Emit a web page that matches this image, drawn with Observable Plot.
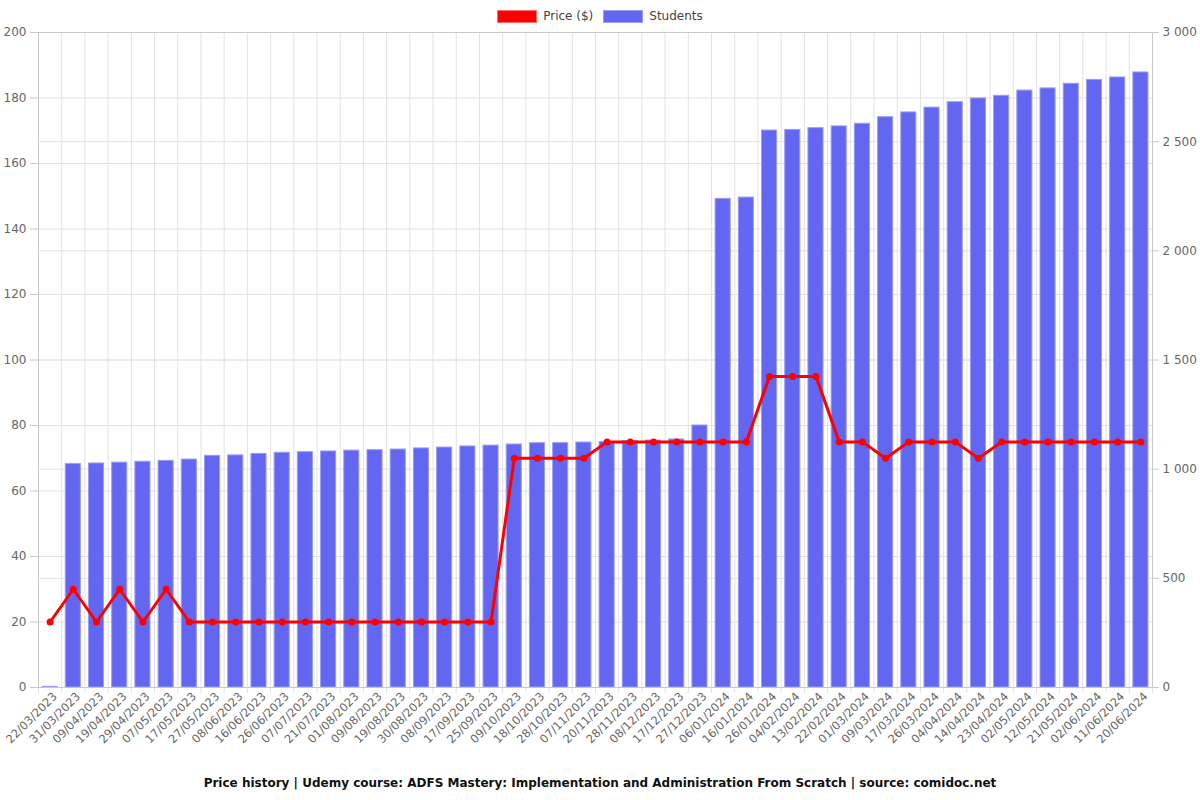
<!DOCTYPE html>
<html>
<head>
<meta charset="utf-8">
<script src="https://cdn.jsdelivr.net/npm/d3@7"></script>
<script src="https://cdn.jsdelivr.net/npm/@observablehq/plot@0.6"></script>
<style>
  body { margin: 0; background: #fff; font-family: "DejaVu Sans", sans-serif; }
  #legend { height: 26px; display: flex; justify-content: center; align-items: center; font-size: 12px; color: #444; padding-top: 6px; box-sizing: border-box; }
  .item { display: flex; align-items: center; margin: 0 5px; }
  .sw { width: 40px; height: 13px; margin-right: 6px; box-sizing: border-box; }
  #caption { text-align: center; font-weight: bold; font-size: 12px; color: #111; height: 30px; line-height: 27px; }
  #chart svg { display: block; }
</style>
</head>
<body>
<div id="legend">
  <div class="item"><div class="sw" style="background:#ff0000;border:1px solid #ff6b6b"></div>Price ($)</div>
  <div class="item"><div class="sw" style="background:#6366f1;border:1px solid #9a9cf5"></div>Students</div>
</div>
<div id="chart"></div>
<div id="caption">Price history | Udemy course: ADFS Mastery: Implementation and Administration From Scratch | source: comidoc.net</div>
<script>
const dates = ["22/03/2023","31/03/2023","09/04/2023","19/04/2023","29/04/2023","07/05/2023","17/05/2023","27/05/2023","08/06/2023","16/06/2023","26/06/2023","07/07/2023","21/07/2023","01/08/2023","09/08/2023","19/08/2023","30/08/2023","08/09/2023","17/09/2023","25/09/2023","09/10/2023","18/10/2023","28/10/2023","07/11/2023","20/11/2023","28/11/2023","08/12/2023","17/12/2023","27/12/2023","06/01/2024","16/01/2024","26/01/2024","04/02/2024","13/02/2024","22/02/2024","01/03/2024","09/03/2024","17/03/2024","26/03/2024","04/04/2024","14/04/2024","23/04/2024","02/05/2024","12/05/2024","21/05/2024","02/06/2024","11/06/2024","20/06/2024"];
const students = [3,1024,1026,1030,1034,1038,1044,1061,1063,1070,1075,1078,1081,1085,1087,1090,1095,1099,1104,1108,1113,1119,1119,1122,1125,1128,1131,1136,1200,2238,2244,2551,2554,2562,2570,2582,2612,2634,2656,2681,2698,2710,2734,2744,2765,2783,2794,2817];
const prices = [20,30,20,30,20,30,20,20,20,20,20,20,20,20,20,20,20,20,20,20,70,70,70,70,75,75,75,75,75,75,75,95,95,95,75,75,70,75,75,75,70,75,75,75,75,75,75,75];
const priceTicks = [0,20,40,60,80,100,120,140,160,180,200];
const studentTicks = [0,500,1000,1500,2000,2500,3000];

const priceMax = priceTicks[priceTicks.length - 1];
const studentMax = studentTicks[studentTicks.length - 1];
const k = studentMax / priceMax;

const data = dates.map((d, i) => ({date: d, price: prices[i], students: students[i]}));

const W = 1200, ML = 38, MR = 48;
const step = (W - ML - MR) / dates.length;
const fmtStudents = v => d3.format(",")(v).replace(/,/g, " ");
const gridColor = "#e2e2e2";

const chart = Plot.plot({
  width: W,
  height: 744,
  marginLeft: ML,
  marginRight: MR,
  marginTop: 6,
  marginBottom: 83,
  style: {fontFamily: "DejaVu Sans, sans-serif", fontSize: "12px", background: "#fff"},
  x: {type: "band", domain: dates, paddingInner: 0.35, paddingOuter: 0.175, round: false},
  y: {domain: [0, priceMax]},
  marks: [
    Plot.ruleY(priceTicks, {stroke: gridColor}),
    Plot.ruleY(studentTicks, {y: d => d / k, stroke: gridColor}),
    Plot.ruleX(dates, {x: d => d, dx: -step / 2, stroke: gridColor, insetBottom: -6}),
    Plot.ruleX([dates[dates.length - 1]], {x: d => d, dx: step / 2, stroke: gridColor, insetBottom: -6}),
    Plot.barY(data, {x: "date", y: d => d.students / k, fill: "#6366f1", stroke: "#9a9cf5", strokeWidth: 1}),
    Plot.line(data, {x: "date", y: "price", stroke: "#ff0000", strokeWidth: 3}),
    Plot.dot(data, {x: "date", y: "price", r: 3.5, fill: "#ff0000"}),
    Plot.frame({stroke: "#c8c8c8"}),
    Plot.axisY({anchor: "left", ticks: priceTicks, tickSize: 8, tickPadding: 4, stroke: "#c8c8c8", fill: "#666", label: null}),
    Plot.axisY({anchor: "right", ticks: studentTicks.map(v => v / k), tickFormat: v => fmtStudents(Math.round(v * k)), tickSize: 6, tickPadding: 4, stroke: "#c8c8c8", fill: "#666", label: null}),
    Plot.axisX({tickRotate: -45, tickSize: 0, tickPadding: 7, dx: 5, fontSize: 11.5, fill: "#666", label: null})
  ]
});
document.getElementById("chart").appendChild(chart);
</script>
</body>
</html>
